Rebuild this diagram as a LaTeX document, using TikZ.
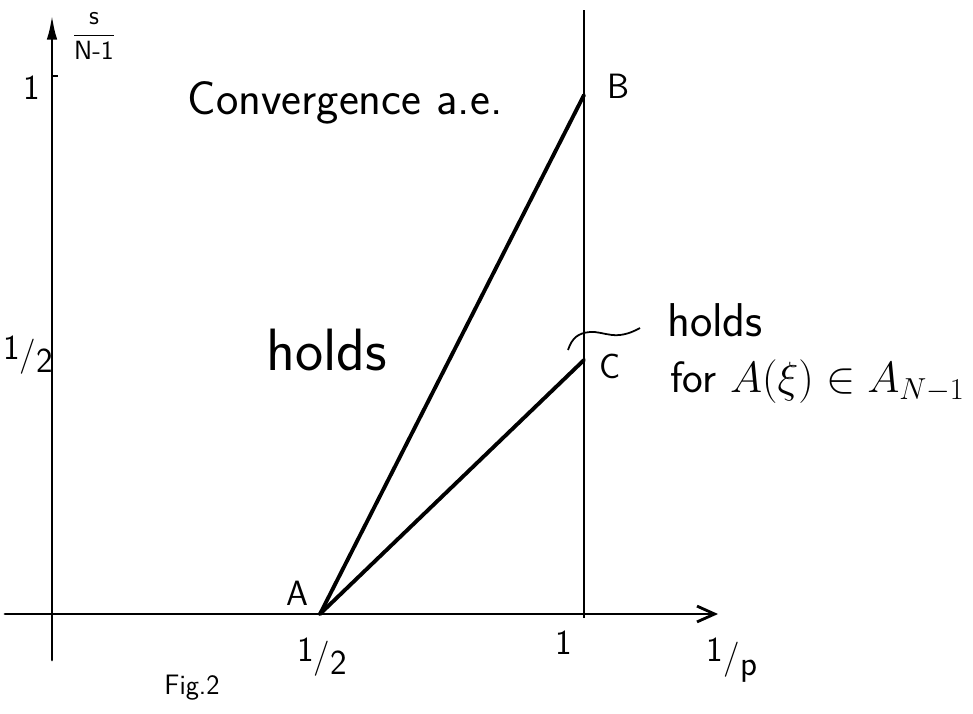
\documentclass[tikz,border=0pt]{standalone}
\usepackage{tikz}
\usetikzlibrary{arrows.meta}

\newcommand{\slfrac}[2]{\raisebox{0.45ex}{#1}/\raisebox{-0.45ex}{#2}}

\tikzset{
  axis/.style={line width=1.6pt, line cap=round},
  ray/.style={line width=2.2pt, line cap=round},
  lbl/.style={font=\sffamily\fontsize{20}{24}\selectfont, inner sep=1pt},
  region/.style={font=\sffamily\fontsize{24}{28}\selectfont, inner sep=1pt}
}

\begin{document}
\begin{tikzpicture}[x=0.02cm, y=-0.02cm]
  \useasboundingbox (0,0) rectangle (973,713);
  % points
  \coordinate (O) at (52,614);
  \coordinate (ytop) at (52,15);
  \coordinate (ybot) at (52,660);
  \coordinate (xleft) at (5,614);
  \coordinate (xright) at (718,614);
  \coordinate (A) at (320,614);
  \coordinate (B) at (584,95);
  \coordinate (C) at (584,360);
  \coordinate (vtop) at (584,10);
  \coordinate (vbot) at (584,618);
  % axes
  \draw[axis, -{Latex[length=14pt, width=6pt]}] (ybot) -- (ytop);
  \draw[axis, -{Straight Barb[length=10pt, width=9pt, line width=1.6pt]}] (xleft) -- (xright);
  \draw[line width=1.1pt] (vbot) -- (vtop);
  \draw[line width=1pt] (52,76) -- (58,76);
  % rays from A
  \draw[ray] (A) -- (B);
  \draw[ray] (A) -- (C);
  % brace
  \draw[line width=1pt] (568,350) .. controls (572,338) and (578,333) .. (590,332)
    .. controls (605,331) and (615,342) .. (640,328);
  % labels
  \node[lbl] (la) at (297,593) {A};
  \node[lbl] (lb) at (618,86) {B};
  \node[lbl] (lc) at (610,366) {C};
  \node[lbl] (y1) at (32,88) {1};
  \node[lbl] (yhalf) at (28,355) {\slfrac{1}{2}};
  \node[lbl] (xhalf) at (322,657) {\slfrac{1}{2}};
  \node[lbl] (x1) at (564,643) {1};
  \node[lbl] (xp) at (732,660) {\slfrac{1}{p}};
  \node[lbl, font=\sffamily\fontsize{15}{18}\selectfont] (yname) at (94,36)
    {$\displaystyle\frac{\textsf{s}}{\textsf{N-1}}$};
  \node[region, font=\sffamily\fontsize{27}{32}\selectfont] (conv) at (345,103) {Convergence a.e.};
  \node[region, font=\sffamily\fontsize{34}{40}\selectfont] (holds) at (327,350) {holds};
  \node[region, font=\sffamily\fontsize{27}{32}\selectfont, anchor=west] (holdsr) at (665,320) {holds};
  \node[region, font=\sffamily\fontsize{25}{30}\selectfont, anchor=west] (forA) at (668,382) {for $A(\xi)\in A_{N-1}$};
  \node[lbl, font=\sffamily\fontsize{16}{19}\selectfont] (fig) at (192,688) {Fig.2};
\end{tikzpicture}
\end{document}
